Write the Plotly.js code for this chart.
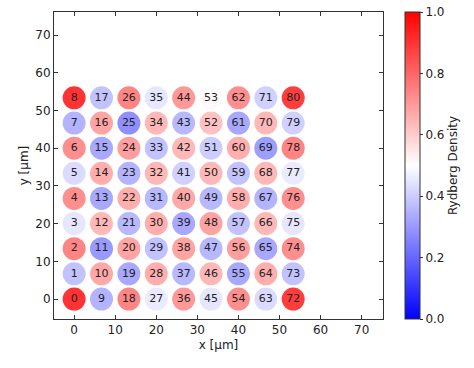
<!DOCTYPE html>
<html><head><meta charset="utf-8">
<script src="https://cdn.plot.ly/plotly-3.0.1.min.js"></script>
<style>body{margin:0;background:#fff}#c{width:474px;height:368px}</style>
</head><body><div id="c"></div>
<script>
// Atom grid: 9 columns x 9 rows, index = col*9 + row
const spacing = 6.6667;
const nCols = 9, nRows = 9;
// Rydberg density per atom (index 0..80)
const density = [
  0.90, 0.38, 0.74, 0.45, 0.72, 0.43, 0.72, 0.35, 0.90,
  0.35, 0.67, 0.30, 0.64, 0.33, 0.66, 0.33, 0.68, 0.38,
  0.74, 0.33, 0.68, 0.36, 0.66, 0.35, 0.69, 0.28, 0.74,
  0.46, 0.66, 0.38, 0.66, 0.36, 0.64, 0.38, 0.64, 0.45,
  0.70, 0.36, 0.68, 0.33, 0.67, 0.41, 0.64, 0.36, 0.70,
  0.45, 0.64, 0.36, 0.68, 0.36, 0.64, 0.40, 0.62, 0.51,
  0.72, 0.33, 0.69, 0.38, 0.66, 0.38, 0.66, 0.33, 0.72,
  0.43, 0.66, 0.33, 0.64, 0.35, 0.64, 0.31, 0.64, 0.41,
  0.88, 0.38, 0.72, 0.45, 0.72, 0.46, 0.74, 0.41, 0.88
];
const xs = [], ys = [], labels = [];
for (let c = 0; c < nCols; c++) {
  for (let r = 0; r < nRows; r++) {
    xs.push(c * spacing); ys.push(r * spacing); labels.push(String(c * nRows + r));
  }
}
const bwr = [[0,'rgb(0,0,255)'],[0.5,'rgb(255,255,255)'],[1,'rgb(255,0,0)']];
const font = 'DejaVu Sans';
const trace = {
  type: 'scatter', mode: 'markers+text', x: xs, y: ys, text: labels,
  textposition: 'middle center',
  textfont: {family: font, size: 11, color: '#222'},
  marker: {size: 23, color: density, colorscale: bwr, cmin: 0, cmax: 1, line: {width: 0},
    colorbar: {x: 1.067, xanchor: 'left', y: 0.5, yanchor: 'middle', len: 1, lenmode: 'fraction', thickness: 15,
      xpad: 0, ypad: 0,
      outlinewidth: 1, outlinecolor: '#333', ticks: 'outside', ticklen: 3, tickcolor: '#333',
      tickvals: [0,0.2,0.4,0.6,0.8,1.0], ticktext: ['0.0','0.2','0.4','0.6','0.8','1.0'],
      tickfont: {family: font, size: 12, color: '#222'},
      title: {text: 'Rydberg Density', side: 'right', font: {family: font, size: 12, color: '#222'}}}},
  hoverinfo: 'none', showlegend: false
};
const axisCommon = {showgrid: false, zeroline: false, showline: true, linecolor: '#333', linewidth: 1,
  mirror: 'ticks', ticks: 'inside', ticklen: 4, tickcolor: '#333', tickvals: [0,10,20,30,40,50,60,70],
  tickfont: {family: font, size: 12, color: '#222'}};
const layout = {
  width: 474, height: 368, margin: {l: 54, r: 91, t: 12, b: 49},
  paper_bgcolor: '#fff', plot_bgcolor: '#fff',
  xaxis: Object.assign({}, axisCommon, {range: [-4.9, 75.2], title: {text: 'x [μm]', standoff: 4, font: {family: font, size: 12, color: '#222'}}}),
  yaxis: Object.assign({}, axisCommon, {range: [-5.3, 76.1], title: {text: 'y [μm]', standoff: 4, font: {family: font, size: 12, color: '#222'}}})
};
Plotly.newPlot('c', [trace], layout, {displayModeBar: false, staticPlot: true});
</script></body></html>
